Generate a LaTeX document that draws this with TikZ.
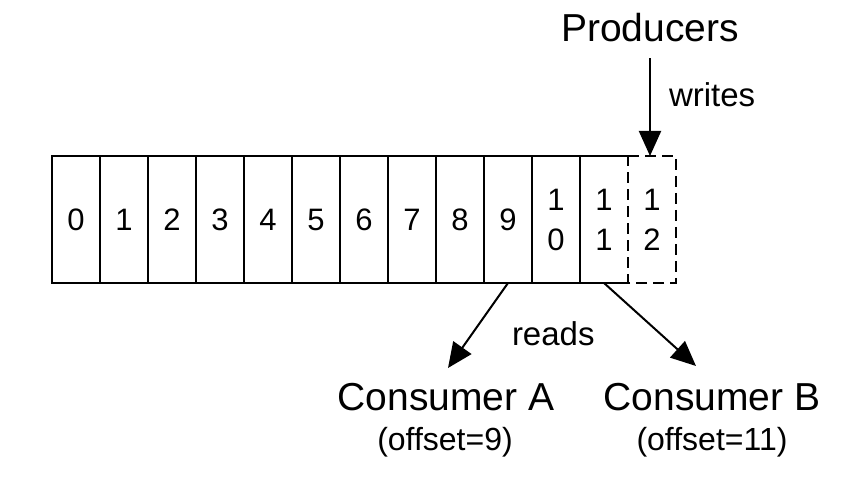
\documentclass[tikz,border=0pt]{standalone}
\usepackage{fontspec}
\setmainfont{Liberation Sans}
\usetikzlibrary{arrows.meta}
\begin{document}
\begin{tikzpicture}[x=1pt,y=-1pt, line width=2pt,
  cell/.style={minimum width=48pt, minimum height=127pt, inner sep=0pt, outer sep=0pt,
    font=\fontsize{31}{40}\selectfont, align=center},
  big/.style={font=\fontsize{39}{44}\selectfont, inner sep=0pt},
  small/.style={font=\fontsize{33}{38}\selectfont, inner sep=0pt},
  note/.style={font=\fontsize{32}{36}\selectfont, inner sep=0pt},
  arr/.style={-{Triangle[length=25pt,width=22pt]}, line width=2pt}]
\useasboundingbox[fill=white] (0,0) rectangle (847,481);
\foreach \i in {0,...,9} \node[cell,draw] (c\i) at ({76+48*\i},219.5) {\i};
\node[cell,draw] (c10) at (556,219.5) {1\\0};
\node[cell] (c11) at (604,219.5) {1\\1};
\draw (c11.north east) -- (c11.north west) -- (c11.south west) -- (c11.south east);
\node[cell] (c12) at (652,219.5) {1\\2};
\draw[dash pattern=on 11pt off 6pt] (c12.north west) -- (c12.north east) -- (c12.south east) -- (c12.south west) -- cycle;
\node[big, anchor=base] (prod) at (650,42) {Producers};
\draw[arr, shorten <=15pt] (prod.south) -- (prod.south |- c12.north);
\node[small, anchor=base west] (wr) at (668,107) {writes};
\node[small, anchor=base west] (rd) at (511,346) {reads};
\node[big, anchor=base] (conA) at (446,410) {Consumer A};
\node[note, anchor=base] (offA) at (445,450) {(offset=9)};
\node[big, anchor=base] (conB) at (712,410) {Consumer B};
\node[note, anchor=base] (offB) at (712,450) {(offset=11)};
\coordinate (tA) at (448,368);
\coordinate (tB) at (696,366);
\draw[arr] (c9.south) -- (tA);
\draw[arr] (c11.south) -- (tB);
\end{tikzpicture}
\end{document}
